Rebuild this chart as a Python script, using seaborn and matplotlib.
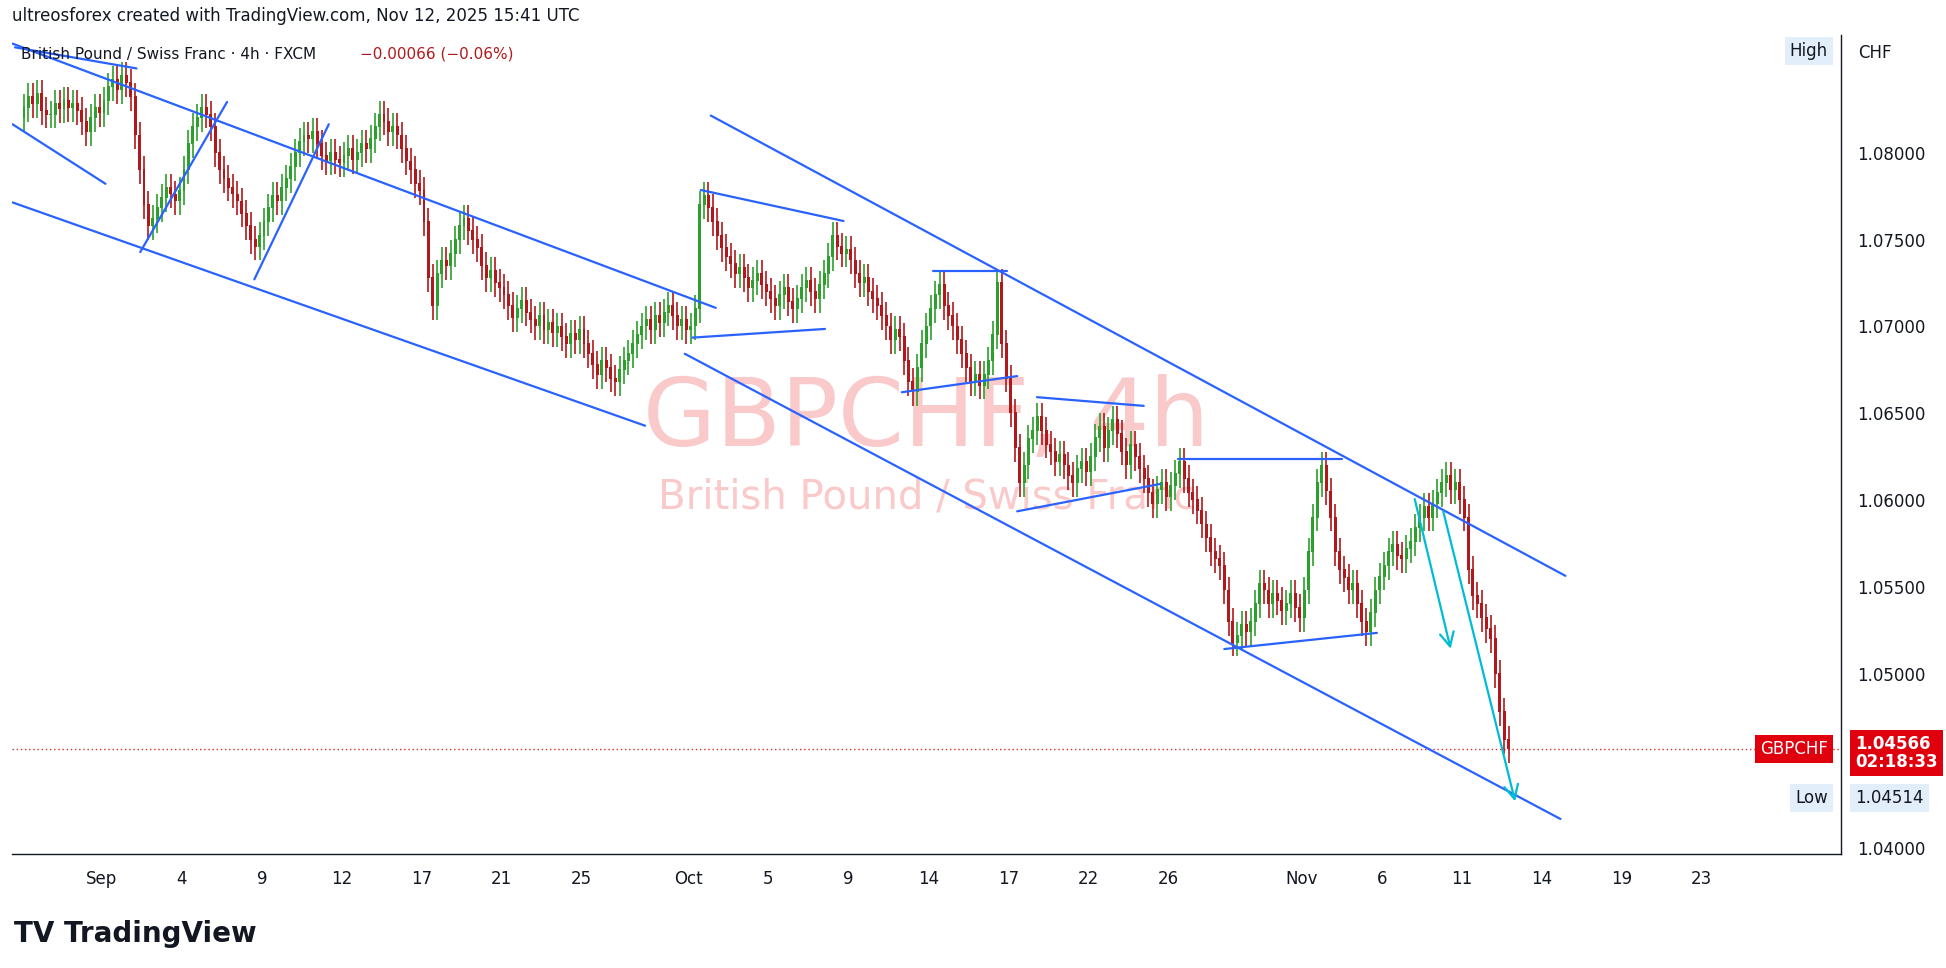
import matplotlib
matplotlib.use("Agg")
import matplotlib.pyplot as plt
import seaborn as sns
import numpy as np

sns.set_theme(style="white")
plt.rcParams['font.family'] = ['DejaVu Sans']

# 4h closes in pips (1.0 + p/10000), 6 per trading day, starting Aug 27 (day -3)
closes_pips = [
 826,832,828,834,824,822,
 822,828,825,830,826,828, 824,818,812,820,826,823, 830,838,842,836,844,840,
 832,810,790,770,758,762, 768,774,780,776,772,778, 790,805,815,820,826,822,
 815,800,790,785,780,776, 772,765,758,750,746,752, 760,768,775,772,780,785,
 792,800,806,810,808,812, 805,798,795,800,796,794, 798,802,796,800,805,802,
 808,815,822,818,812,815, 810,802,795,790,782,778, 760,728,712,730,738,735,
 742,750,758,762,755,750, 745,735,728,732,725,722, 718,712,705,710,715,708,
 704,700,706,698,702,696, 700,694,690,696,692,698, 690,684,678,672,680,676,
 670,668,675,680,684,690, 695,700,704,698,706,702, 708,712,706,700,704,698,
 700,710,770,775,768,760, 752,745,740,736,730,734, 728,722,726,730,724,720,
 716,712,718,722,714,710, 716,722,726,720,716,724, 730,740,752,746,742,744,
 738,730,725,728,720,716, 712,706,700,692,698,694, 680,668,662,676,690,700,
 710,718,724,712,706,700, 692,684,676,668,672,666, 672,680,695,725,690,670,
 650,630,610,620,635,640, 648,640,632,628,622,626, 620,614,610,618,622,616,
 625,636,642,630,640,646, 638,628,620,632,625,618, 612,604,598,606,610,602,
 608,615,622,612,604,600, 594,586,578,570,566,562, 548,530,518,522,528,524,
 530,540,552,548,540,546, 542,536,540,546,538,532, 548,570,590,610,620,605,
 590,570,560,555,548,552, 540,530,524,535,548,556, 562,570,574,568,566,572,
 576,584,590,596,590,598, 604,610,614,606,610,600, 590,560,545,540,532,526,
 520,500,478,462,456.6]
first_open_pips = 820
start_day = -3

tick_days = [0, 3, 6, 9, 12, 15, 18, 22, 25, 28, 31, 34, 37, 40, 45, 48, 51, 54, 57, 60]
tick_labels = ["Sep", "4", "9", "12", "17", "21", "25", "Oct", "5", "9", "14", "17", "22", "26",
               "Nov", "6", "11", "14", "19", "23"]
price_ticks = [1.040, 1.050, 1.055, 1.060, 1.065, 1.070, 1.075, 1.080]
last_price = 1.04566
low_price = 1.04514

# trend lines (day, price) pairs
def P(x, y):
    return ((x - 82) / 21.5, 1.08 - (y - 123) * 0.005 / 70)
blue_lines = [
    (P(10, 35), P(577, 248)), (P(10, 163), P(520, 343)), (P(10, 100), P(85, 148)),
    (P(12, 38), P(110, 55)), (P(113, 203), P(183, 82)), (P(205, 225), P(265, 100)),
    (P(573, 93), P(1262, 464)), (P(552, 285), P(1258, 660)),
    (P(565, 153), P(680, 178)), (P(558, 272), P(665, 265)),
    (P(752, 218), P(812, 218)), (P(727, 316), P(820, 303)),
    (P(836, 320), P(922, 327)), (P(820, 412), P(935, 390)),
    (P(950, 370), P(1082, 370)), (P(987, 523), P(1110, 510)),
]
cyan_arrows = [(P(1140, 400), P(1170, 525)), (P(1163, 410), P(1222, 648))]

closes = 1.0 + np.array(closes_pips) / 10000
opens = np.concatenate([[1.0 + first_open_pips / 10000], closes[:-1]])
xs = start_day + np.arange(len(closes)) / 6 + 1 / 12
highs = np.maximum(opens, closes) + 0.0008
lows = np.minimum(opens, closes) - 0.0008

fig = plt.figure(figsize=(19.46, 9.68), dpi=100)
ax = fig.add_axes([0.0064, 0.118, 0.9394, 0.846])
ax.set_xlim(-3.35, 65.2)
ax.set_ylim(1.03964, 1.08679)

# watermark
ax.text(0.5, 0.53, "GBPCHF, 4h", transform=ax.transAxes, ha="center", va="center",
        fontsize=68, color="#f7a5a5", alpha=0.6, zorder=0)
ax.text(0.5, 0.435, "British Pound / Swiss Franc", transform=ax.transAxes, ha="center",
        va="center", fontsize=29, color="#f7a5a5", alpha=0.6, zorder=0)

up = closes >= opens
green, red = "#2ca02c", "#b2181b"
cols = np.where(up, green, red)
ax.vlines(xs, lows, highs, colors=cols, lw=1.2, zorder=3)
ax.bar(xs, np.abs(closes - opens) + 0.00005, bottom=np.minimum(opens, closes),
       width=0.11, color=cols, zorder=4, linewidth=0)

for (a, b) in blue_lines:
    ax.plot([a[0], b[0]], [a[1], b[1]], color="#2962ff", lw=1.6, zorder=5)
for (a, b) in cyan_arrows:
    ax.annotate("", xy=b, xytext=a, arrowprops=dict(arrowstyle="->", color="#00bcd4",
                lw=1.6, mutation_scale=25), zorder=5)

ax.axhline(last_price, color="#d32f2f", lw=1, ls=(0, (1, 2)), zorder=2)

ax.set_xticks(tick_days)
ax.set_xticklabels(tick_labels, fontsize=12, color="#131722")
ax.yaxis.tick_right()
ax.set_yticks(price_ticks)
ax.set_yticklabels([f"{v:.5f}" for v in price_ticks], fontsize=12, color="#131722")
ax.tick_params(axis="both", length=0, pad=12)
for s in ["top", "left"]:
    ax.spines[s].set_visible(False)
for s in ["bottom", "right"]:
    ax.spines[s].set_color("#131722")
    ax.spines[s].set_linewidth(1)

# right axis labels
tr = ax.get_yaxis_transform()
low_label_y = 1.04286
ax.text(0.993, last_price, "GBPCHF", transform=tr, ha="right", va="center", fontsize=12,
        color="white", bbox=dict(boxstyle="square,pad=0.3", fc="#e0000d", ec="none"))
ax.text(1.008, last_price - 0.0002, "1.04566\n02:18:33", transform=tr, ha="left", va="center",
        fontsize=12, color="white", fontweight="bold", linespacing=1.0,
        bbox=dict(boxstyle="square,pad=0.3", fc="#e0000d", ec="none"))
ax.text(0.993, low_label_y, "Low", transform=tr, ha="right", va="center", fontsize=12,
        color="#131722", bbox=dict(boxstyle="square,pad=0.3", fc="#e3eefb", ec="none"))
ax.text(1.008, low_label_y, "1.04514", transform=tr, ha="left", va="center",
        fontsize=12, color="#131722", bbox=dict(boxstyle="square,pad=0.3", fc="#e3eefb", ec="none"))
ax.text(0.993, 0.98, "High", transform=ax.transAxes, ha="right", va="center", fontsize=12,
        color="#131722", bbox=dict(boxstyle="square,pad=0.3", fc="#e3eefb", ec="none"))
fig.text(0.955, 0.945, "CHF", fontsize=12, color="#131722", va="center")

fig.text(0.006, 0.983, "ultreosforex created with TradingView.com, Nov 12, 2025 15:41 UTC",
         fontsize=12, color="#131722", va="center")
fig.text(0.011, 0.944, "British Pound / Swiss Franc · 4h · FXCM", fontsize=11,
         color="#131722", va="center")
fig.text(0.185, 0.944, "−0.00066 (−0.06%)", fontsize=11, color="#b2181b", va="center")
fig.text(0.007, 0.035, "TV TradingView", fontsize=20, fontweight="bold", color="#131722",
         va="center")

fig.savefig("out.png", dpi=100, facecolor="white")
